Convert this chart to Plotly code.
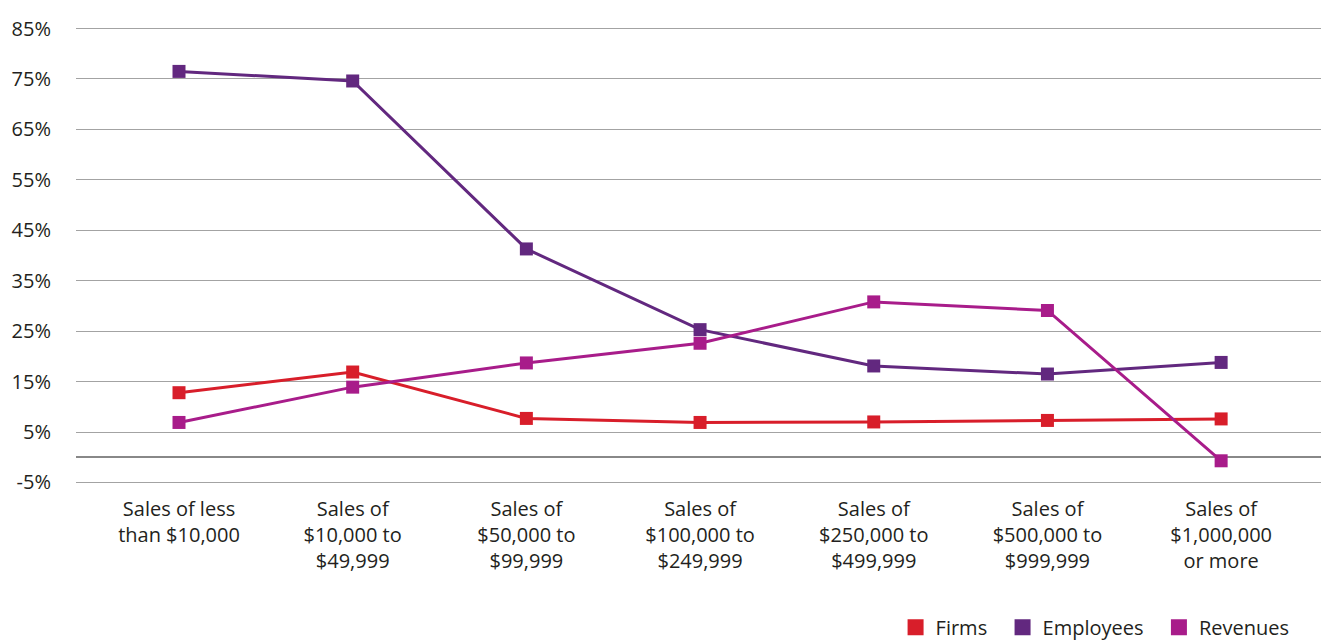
import plotly.graph_objects as go

categories = [
    "Sales of less<br>than $10,000",
    "Sales of<br>$10,000 to<br>$49,999",
    "Sales of<br>$50,000 to<br>$99,999",
    "Sales of<br>$100,000 to<br>$249,999",
    "Sales of<br>$250,000 to<br>$499,999",
    "Sales of<br>$500,000 to<br>$999,999",
    "Sales of<br>$1,000,000<br>or more",
]
firms = [12.8, 16.9, 7.7, 6.9, 7.0, 7.3, 7.6]
employees = [76.5, 74.6, 41.3, 25.3, 18.1, 16.5, 18.8]
revenues = [6.9, 13.9, 18.7, 22.6, 30.8, 29.1, -0.7]
y_ticks = [-5, 5, 15, 25, 35, 45, 55, 65, 75, 85]
y_tick_labels = [f"{v}%" for v in y_ticks]
series_names = ["Firms", "Employees", "Revenues"]
series_colors = ["#d81e2a", "#62287f", "#a81c8a"]
series_values = [firms, employees, revenues]

FONT = "'Open Sans', 'Noto Sans', sans-serif"
NBSP = "\u00a0"

fig = go.Figure()
for name, vals, color in zip(series_names, series_values, series_colors):
    fig.add_trace(go.Scatter(
        x=categories, y=vals, name=name, mode="lines+markers",
        line=dict(color=color, width=3),
        marker=dict(symbol="square", size=13, color=color),
        showlegend=False,
    ))
for i, (name, color) in enumerate(zip(series_names, series_colors)):
    label = name if i == len(series_names) - 1 else name + NBSP * 2
    fig.add_trace(go.Scatter(
        x=[None], y=[None], name=label, mode="markers",
        marker=dict(symbol="square", size=19, color=color),
        showlegend=True,
    ))

fig.update_layout(
    width=1321, height=643,
    margin=dict(l=76, r=0, t=26, b=158, autoexpand=False),
    paper_bgcolor="white", plot_bgcolor="white",
    font=dict(family=FONT, color="#231f20"),
    showlegend=True,
    legend=dict(
        orientation="h", x=0.98, xanchor="right", xref="container",
        y=-0.31, yanchor="middle", yref="paper",
        font=dict(size=20, color="#231f20"),
        itemwidth=30, tracegroupgap=0,
    ),
    xaxis=dict(
        type="category", range=[-0.593, 6.575], automargin=False,
        showgrid=False, zeroline=False, showline=False,
        ticks="", ticklabelstandoff=10,
        tickfont=dict(size=20, color="#231f20"),
    ),
    yaxis=dict(
        range=[-5.5, 85.5], tickvals=y_ticks, ticktext=y_tick_labels,
        automargin=False,
        showgrid=True, gridcolor="#a3a3a3", gridwidth=1,
        zeroline=True, zerolinecolor="#888888", zerolinewidth=2,
        showline=False, ticks="", ticklabelstandoff=24,
        tickfont=dict(size=20, color="#231f20"),
    ),
)

fig.write_html(
    "out.html",
    config={"displayModeBar": False},
    post_script="document.body.style.margin='0';document.body.style.overflow='hidden';",
)
